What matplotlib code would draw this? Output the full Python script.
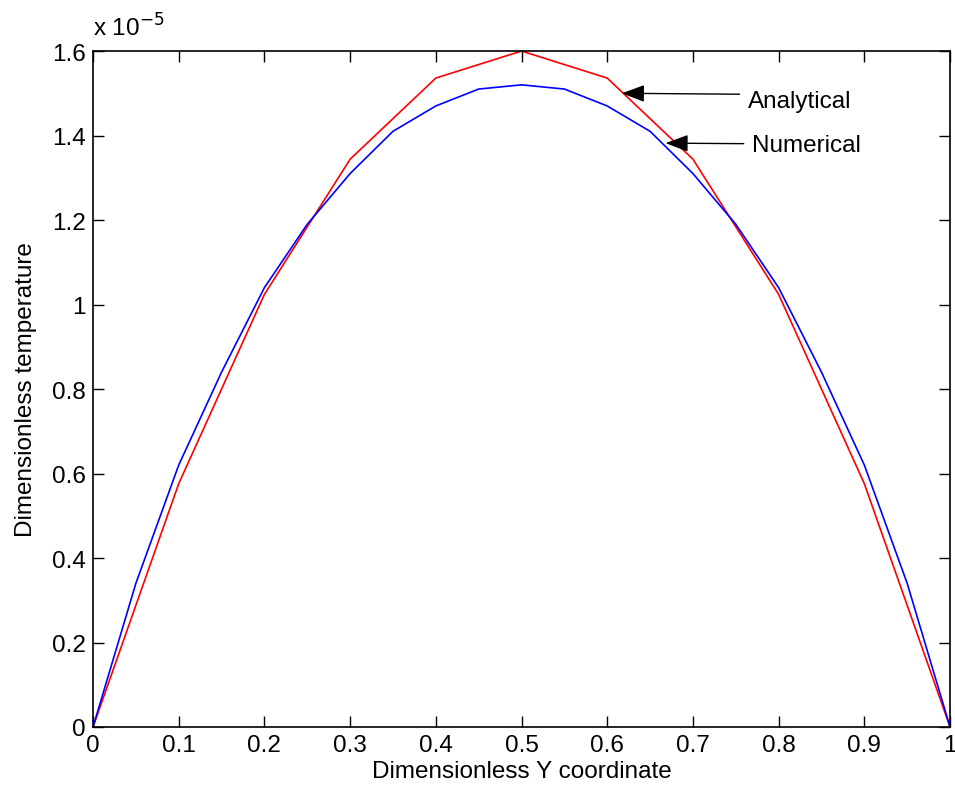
import matplotlib.pyplot as plt

# Temperature profiles across the channel (values in units of 1e-5)
y_analytical = [0, 0.1, 0.2, 0.3, 0.4, 0.5, 0.6, 0.7, 0.8, 0.9, 1.0]
t_analytical = [0, 0.576, 1.024, 1.344, 1.536, 1.6, 1.536, 1.344, 1.024, 0.576, 0]

y_numerical = [0, 0.05, 0.1, 0.15, 0.2, 0.25, 0.3, 0.35, 0.4, 0.45, 0.5,
               0.55, 0.6, 0.65, 0.7, 0.75, 0.8, 0.85, 0.9, 0.95, 1.0]
t_numerical = [0, 0.34, 0.62, 0.84, 1.04, 1.19, 1.31, 1.41, 1.47, 1.51, 1.52,
               1.51, 1.47, 1.41, 1.31, 1.19, 1.04, 0.84, 0.62, 0.34, 0]

xticks = [0, 0.1, 0.2, 0.3, 0.4, 0.5, 0.6, 0.7, 0.8, 0.9, 1]
xticklabels = ['0', '0.1', '0.2', '0.3', '0.4', '0.5', '0.6', '0.7', '0.8', '0.9', '1']
yticks = [0, 0.2, 0.4, 0.6, 0.8, 1.0, 1.2, 1.4, 1.6]
yticklabels = ['0', '0.2', '0.4', '0.6', '0.8', '1', '1.2', '1.4', '1.6']

plt.rcParams['font.family'] = ['Liberation Sans', 'DejaVu Sans']
fs = 17.5

fig = plt.figure(figsize=(9.55, 8.03), dpi=100)
ax = fig.add_axes([0.0974, 0.0934, 0.8974, 0.8418])

ax.plot(y_analytical, t_analytical, color='#ff0000', lw=1.2)
ax.plot(y_numerical, t_numerical, color='#0000ff', lw=1.2)

ax.set_xlim(0, 1)
ax.set_ylim(0, 1.6)
ax.set_xticks(xticks)
ax.set_xticklabels(xticklabels)
ax.set_yticks(yticks)
ax.set_yticklabels(yticklabels)
ax.tick_params(direction='in', length=8, width=1, top=True, right=True,
               labelsize=fs, pad=5)
for s in ax.spines.values():
    s.set_linewidth(1.2)

ax.set_xlabel('Dimensionless Y coordinate', fontsize=fs, labelpad=3)
ax.set_ylabel('Dimensionless temperature', fontsize=fs, labelpad=11)

# exponent label for the y axis
ax.text(0.0, 1.015, r'x 10$^{-5}$', transform=ax.transAxes, fontsize=fs,
        ha='left', va='bottom')

ax.annotate('Analytical', xy=(0.617, 1.50), xytext=(0.764, 1.482),
            fontsize=fs, va='center', ha='left',
            arrowprops=dict(arrowstyle='-|>,head_length=0.8,head_width=0.3',
                            color='black', lw=1.0, shrinkA=4, shrinkB=0,
                            relpos=(0, 0.8)))
ax.annotate('Numerical', xy=(0.668, 1.382), xytext=(0.769, 1.378),
            fontsize=fs, va='center', ha='left',
            arrowprops=dict(arrowstyle='-|>,head_length=0.8,head_width=0.3',
                            color='black', lw=1.0, shrinkA=4, shrinkB=0,
                            relpos=(0, 0.55)))

plt.savefig('out.png', dpi=100, facecolor='white')
